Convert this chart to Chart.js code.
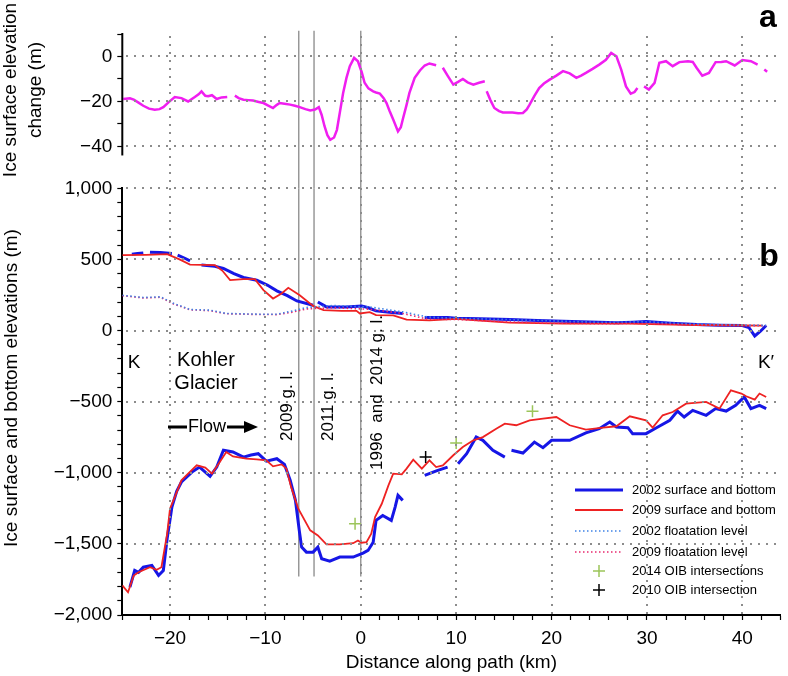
<!DOCTYPE html>
<html>
<head>
<meta charset="utf-8">
<script src="https://cdn.jsdelivr.net/npm/chart.js@4.4.1/dist/chart.umd.min.js"></script>
<style>
html, body { margin: 0; padding: 0; background: #fff; }
</style>
</head>
<body>
<canvas id="glacierChart" width="788" height="676" style="width:788px;height:676px;display:block"></canvas>
<script>
var FONT = "'Liberation Sans', Arial, Helvetica, sans-serif";

// tick labels
var xTicks = [-20, -10, 0, 10, 20, 30, 40];
var yTicksA = [0, -20, -40];
var yTicksB = [1000, 500, 0, -500, -1000, -1500, -2000];

// panel a : ice surface elevation change (m), null = gap in the data
var dhX = [-24.9, -24.2, -23.8, -23.3, -22.8, -22.2, -21.6, -21.1, -20.7, -20.1, -19.5, -18.8, -18.1, -17.4, -17.0, -16.7, -16.3, -16.0, -15.6, -15.1, -14.6, -14.0, -13.6,
  -13.2, -12.8, -12.3, -11.8, -11.3, -10.7, -10.2, -9.7, -9.2, -8.8, -8.5, -8.0, -7.4, -6.9, -6.4, -5.8, -5.3, -4.8, -4.4, -4.1, -3.8, -3.5, -3.2, -2.8, -2.5, -2.2, -1.85, -1.5, -1.15, -0.7, -0.3, 0.1, 0.4, 0.8, 1.3, 1.6, 2.0, 2.4, 2.7, 3.0, 3.4, 3.9, 4.2, 4.4, 4.8, 5.1, 5.65, 6.2, 6.7, 7.2, 7.9, 8.2,
  8.6, 9.1, 9.7, 10.2, 10.7, 11.2, 11.8, 12.4, 13.0, 13.1,
  13.2, 13.6, 14.0, 14.5, 14.9, 15.4, 15.9, 16.5, 17.0, 17.4, 17.7, 18.2, 18.7, 19.2, 19.8, 20.5, 21.2, 21.9, 22.6, 23.1, 23.6, 24.3, 25.0, 25.7, 26.25, 26.8, 27.3, 27.8, 28.3, 28.7, 29.0, 29.3,
  29.7, 30.2, 30.8, 31.3, 32.0, 32.7, 33.4, 34.3, 34.8, 35.2, 35.8, 36.5, 37.2, 37.8, 38.3, 39.2, 40.0, 40.9, 41.6, 42.0,
  42.3, 42.6];
var dhVal = [-18.9, -18.6, -19.2, -20.5, -21.9, -23.2, -23.7, -23.4, -22.5, -20.2, -18, -18.5, -20, -18, -16.8, -15.5, -17.5, -17.7, -17.2, -18.9, -18.2, -18, null,
  -17.4, -18.5, -19.2, -19.4, -19.6, -20.2, -20.7, -21.8, -22.9, -21.5, -20.7, -21, -21.4, -21.9, -22.5, -23.4, -24, -23.6, -22.5, -26, -31, -35, -37, -36, -32.6, -25, -16.2, -9.5, -4.3, -0.6, -2.1, -7, -11.7, -14.2, -15.5, -16, -16.5, -18.5, -20.7, -24, -28, -33.3, -31.5, -28, -21.5, -16.2, -9.5, -6.2, -4, -3.1, -3.9, null,
  -5, -8.5, -12.5, -11.3, -10, -11.5, -12.5, -11.7, -11, null,
  -15.5, -19.5, -22.9, -24.3, -24.9, -24.9, -24.9, -25.2, -25.1, -23.5, -21.4, -17.5, -14, -12, -10.3, -8.5, -6.5, -7.5, -9.5, -8.5, -7.3, -5.5, -3.6, -1.5, 1.6, 0.1, -5.8, -13.3, -16.5, -15.8, -14, null,
  -13.3, -14.7, -11.7, -2.8, -2.1, -4.3, -2.5, -2.1, -2.4, -5, -8.5, -7.3, -2.5, -2.4, -2.1, -4, -1.6, -2.1, -3.6, null,
  -5.8, -6.8];

// panel b : 2002 surface and bottom (m)
var srf02X = [-24.0, -23.4, -22.8, -22.6, -22.1, -21.0, -19.8, -19.5, -19.2, -18.5, -17.9, -17.3,
  -16.7, -15.3, -14.4, -13.3, -12.3, -10.9, -9.8, -8.8, -7.7, -6.7, -5.0, -4.8,
  -4.5, -3.6, -2.5, -1.5, 0.1, 0.8, 1.6, 3.0, 4.4, 5.5,
  6.7, 9.1, 10.0, 12.5, 15.6, 18.5, 21.2, 24.0, 26.8, 28.5, 29.9, 32.5, 35.2, 37.5, 40.0, 40.7, 41.3, 41.9, 42.5];
var srf02 = [537, 542, 546, null, 551, 548, 542, null, 530, 510, 490, null,
  460, 452, 436, 400, 373, 354, 320, 279, 245, 208, 178, null,
  201, 166, 166, 166, 173, 160, 138, 128, 120, null,
  91, 91, 87, 82, 77, 71, 65, 60, 54, 58, 63, 52, 42, 38, 35, 20, -38, -5, 35];
var bed02X = [-24.2, -23.7, -23.3, -22.8, -21.9, -21.2, -20.7, -20.3, -19.8, -19.3, -18.8, -17.7, -16.9, -15.8, -15.1, -14.4, -13.4, -12.3, -11.5, -10.75, -9.9, -8.8, -8.0, -7.4, -6.85, -6.45, -6.2, -5.7, -5.0, -4.5, -4.1, -3.25, -2.2, -0.8, 0.24, 0.76, 1.3, 1.6, 2.3, 3.2, 3.6, 3.9, 4.4, 5.5,
  6.7, 8.0, 9.1, 9.6,
  10.2, 11.1, 12.1, 12.8, 13.85, 15.1, 15.4,
  15.8, 17.0, 18.2, 19.1, 20.0, 21.9, 23.6, 25.0, 26.1, 26.8, 28.0, 28.5, 29.9, 31.0, 32.4, 33.2, 33.9, 34.8, 36.2, 37.2, 38.3, 39.3, 40.2, 40.9, 41.8, 42.5];
var bed02 = [-1804, -1687, -1700, -1664, -1652, -1722, -1687, -1464, -1241, -1130, -1065, -995, -960, -1025, -960, -842, -854, -890, -875, -866, -918, -901, -941, -1053, -1194, -1405, -1523, -1558, -1558, -1523, -1605, -1621, -1593, -1593, -1565, -1546, -1488, -1335, -1300, -1335, -1241, -1159, -1194, null,
  -1018, -985, -960, null,
  -936, -866, -749, -772, -842, -890, null,
  -842, -861, -784, -824, -772, -772, -720, -690, -643, -678, -683, -725, -725, -683, -631, -566, -608, -561, -596, -549, -566, -526, -467, -549, -526, -549];

// panel b : 2009 surface and bottom (m)
var srf09X = [-25.0, -22.5, -20.3, -19.0, -17.9, -15.3, -14.5, -13.7, -12.3, -11.1, -10.2, -9.2, -8.3, -7.6, -6.4, -5.0, -3.9, -2.0, -0.45, -0.1, 0.94, 1.6, 3.4, 4.8, 7.2, 10.0, 12.5, 15.6, 18.5, 21.2, 24.5, 28.2, 31.5, 35.2, 38.5, 42.1];
var srf09 = [530, 532, 537, 500, 464, 460, 420, 354, 361, 361, 284, 225, 260, 300, 248, 173, 143, 138, 138, 120, 129, 108, 106, 77, 72, 82, 70, 56, 52, 49, 48, 49, 44, 39, 37, 35];
var bed09X = [-25.0, -24.4, -23.8, -23.3, -22.1, -21.4, -20.9, -20.3, -20.0, -19.5, -18.8, -18.1, -17.2, -16.3, -15.6, -14.9, -14.1, -13.4, -12.0, -10.9, -9.9, -9.2, -8.3, -7.8, -7.3, -6.55, -5.3, -4.5, -3.6, -2.2, -0.8, -0.3, 0.07, 0.6, 1.1, 1.5, 2.2, 2.9, 3.4, 4.3, 4.8, 5.5, 6.4, 7.2, 7.9, 8.6, 9.7, 10.7, 11.8, 12.8, 14.2, 15.1, 16.3, 17.7, 19.1, 20.5, 21.9, 23.6, 25.4, 26.8, 28.2, 29.9, 30.6, 31.65, 32.7, 34.1, 36.2, 37.6, 38.8, 39.9, 40.4, 41.3, 41.8, 42.5];
var bed09 = [-1792, -1840, -1722, -1699, -1664, -1682, -1664, -1429, -1253, -1171, -1053, -1006, -948, -964, -1006, -936, -854, -885, -901, -906, -913, -955, -941, -971, -1101, -1253, -1405, -1441, -1504, -1504, -1495, -1476, -1492, -1488, -1429, -1312, -1218, -1089, -1006, -1011, -971, -908, -971, -913, -960, -948, -877, -819, -772, -749, -690, -655, -666, -631, -619, -608, -666, -697, -683, -673, -603, -631, -683, -596, -573, -514, -502, -549, -420, -443, -462, -486, -443, -467];

// panel b : floatation levels (m)
var flt02X = [-25.0, -22.8, -21.0, -19.6, -17.9, -15.8, -14.1, -10.9, -8.8, -7.1, -5.7, -2.9, 0.9, 4.4, 7.0, 10.0, 15.0, 20.0, 25.0, 30.0, 35.0, 40.0, 42.5];
var flt02 = [248, 232, 237, 190, 148, 143, 120, 115, 115, 138, 162, 176, 166, 131, 95, 86, 78, 68, 58, 62, 45, 38, 36];
var flt09X = [-25.0, -22.8, -21.0, -19.6, -17.9, -15.8, -14.1, -10.9, -8.8, -7.1, -5.7, -2.9, 0.9, 4.4, 7.0, 10.0, 15.0, 20.0, 25.0, 30.0, 35.0, 40.0, 42.5];
var flt09 = [245, 229, 234, 186, 146, 140, 118, 113, 112, 130, 152, 160, 150, 120, 80, 78, 62, 52, 48, 50, 40, 35, 34];

// OIB intersections
var oib14X = [-0.6, 10.0, 18.0];
var oib14Y = [-1358, -791, -568];
var oib10X = [6.8];
var oib10Y = [-890];

// grounding lines (2009, 2011, 1996 and 2014) and their vertical extent in each panel
var glX = [-6.5, -4.9, 0];
var glSpanA = [11.5, -58.6];
var glSpanB = [1000, -1730];

var BLUE = '#1616e6', RED = '#ee2222', MAGENTA = '#f01ef0';
var GRID = '#8c8c8c';

function pts(xs, ys) {
  return xs.map(function (x, i) { return { x: x, y: ys[i] }; });
}
function fmt(v) {
  return (v < 0 ? '\u2212' : '') + Math.abs(v).toLocaleString('en-US');
}
function text(ctx, s, x, y, font, rot, align) {
  ctx.save();
  ctx.translate(x, y);
  if (rot) ctx.rotate(rot);
  ctx.font = font;
  ctx.fillStyle = '#000';
  ctx.textAlign = align || 'center';
  ctx.textBaseline = 'middle';
  ctx.fillText(s, 0, 0);
  ctx.restore();
}
function glSets(span, axis) {
  return glX.map(function (g) {
    return { data: pts([g, g], span), yAxisID: axis, borderColor: '#8a8a8a', borderWidth: 1.3, pointRadius: 0, clip: false, order: 5 };
  });
}
function tickFont() { return { family: FONT, size: 19 }; }

// dotted grid lines at the labelled ticks, placed with the chart's scales
var dottedGrid = {
  id: 'dottedGrid',
  afterDatasetsDraw: function (chart) {
    var ctx = chart.ctx, a = chart.chartArea, sx = chart.scales.x;
    var gap = 8, s = 2;
    function vline(px) {
      var x = Math.round(px) - 1;
      for (var y = a.top + 2; y < a.bottom - 2; y += gap) ctx.fillRect(x, Math.round(y), s, s);
    }
    function hline(py) {
      var y = Math.round(py) - 1;
      for (var x = a.left + 4; x < a.right; x += gap) ctx.fillRect(Math.round(x), y, s, s);
    }
    ctx.save();
    ctx.fillStyle = GRID;
    xTicks.forEach(function (v) { vline(sx.getPixelForValue(v)); });
    yTicksA.forEach(function (v) { hline(chart.scales.yA.getPixelForValue(v)); });
    yTicksB.forEach(function (v) { if (v !== -2000) hline(chart.scales.yB.getPixelForValue(v)); });
    ctx.restore();
  }
};

var notes = {
  id: 'notes',
  afterDraw: function (chart) {
    var ctx = chart.ctx, sx = chart.scales.x, sa = chart.scales.yA;
    var f17 = '17px ' + FONT, f19 = '19px ' + FONT;
    // left axis of panel a
    ctx.save();
    ctx.strokeStyle = '#000';
    ctx.lineWidth = 2;
    ctx.beginPath();
    ctx.moveTo(sx.left, sa.getPixelForValue(10) - 1);
    ctx.lineTo(sx.left, sa.getPixelForValue(-44));
    ctx.stroke();
    ctx.restore();
    text(ctx, 'Ice surface elevation', 11, 90, f19, -Math.PI / 2);
    text(ctx, 'change (m)', 36, 90, f19, -Math.PI / 2);
    text(ctx, 'a', 768, 18, 'bold 32px ' + FONT);
    text(ctx, 'Ice surface and bottom elevations (m)', 12, 388, f19, -Math.PI / 2);
    text(ctx, 'K', 134, 363, f19);
    text(ctx, 'K\u2032', 766, 363, f19);
    text(ctx, 'Kohler', 206, 360, '20px ' + FONT);
    text(ctx, 'Glacier', 206, 383, '20px ' + FONT);
    text(ctx, 'b', 769, 257, 'bold 32px ' + FONT);
    text(ctx, '2009 g. l.', 287, 441, f17, -Math.PI / 2, 'left');
    text(ctx, '2011 g. l.', 328, 441, f17, -Math.PI / 2, 'left');
    text(ctx, '1996  and  2014 g. l.', 377, 470, f17, -Math.PI / 2, 'left');
    // flow arrow
    ctx.save();
    ctx.strokeStyle = '#000';
    ctx.fillStyle = '#000';
    ctx.lineWidth = 3;
    ctx.beginPath();
    ctx.moveTo(168, 427); ctx.lineTo(187, 427);
    ctx.moveTo(227, 427); ctx.lineTo(246, 427);
    ctx.stroke();
    ctx.beginPath();
    ctx.moveTo(244, 421); ctx.lineTo(258, 427); ctx.lineTo(244, 433); ctx.closePath();
    ctx.fill();
    ctx.restore();
    text(ctx, 'Flow', 207, 427, '18px ' + FONT);
    // legend
    var items = chart.data.datasets.filter(function (d) { return d.label; });
    var rows = [490, 510, 531, 552, 571, 590];
    items.forEach(function (d, i) {
      var y = rows[i];
      ctx.save();
      ctx.strokeStyle = d.borderColor;
      if (d.showLine === false) {
        ctx.lineWidth = 1.5;
        ctx.beginPath();
        ctx.moveTo(593, y); ctx.lineTo(605, y);
        ctx.moveTo(599, y - 6); ctx.lineTo(599, y + 6);
        ctx.stroke();
      } else {
        ctx.lineWidth = d.borderWidth;
        ctx.setLineDash(d.borderDash || []);
        ctx.beginPath();
        ctx.moveTo(575, y); ctx.lineTo(623, y);
        ctx.stroke();
      }
      ctx.restore();
      text(ctx, d.label, 632, y, '13px ' + FONT, 0, 'left');
    });
  }
};

new Chart('glacierChart', {
  type: 'line',
  data: {
    datasets: [
      { label: '2002 surface and bottom', data: pts(srf02X, srf02), yAxisID: 'yB', borderColor: BLUE, borderWidth: 3, pointRadius: 0, order: 3 },
      { label: '2009 surface and bottom', data: pts(srf09X, srf09), yAxisID: 'yB', borderColor: RED, borderWidth: 1.8, pointRadius: 0, order: 2 },
      { label: '2002 floatation level', data: pts(flt02X, flt02), yAxisID: 'yB', borderColor: '#3f82e6', borderWidth: 1.6, borderDash: [1.5, 2.5], pointRadius: 0, order: 1 },
      { label: '2009 floatation level', data: pts(flt09X, flt09), yAxisID: 'yB', borderColor: '#e8286e', borderWidth: 1.6, borderDash: [1.5, 2.5], pointRadius: 0, order: 1 },
      { label: '2014 OIB intersections', data: pts(oib14X, oib14Y), yAxisID: 'yB', showLine: false, pointStyle: 'cross', pointRadius: 6, borderColor: '#9cc55a', borderWidth: 1.5, order: 0 },
      { label: '2010 OIB intersection', data: pts(oib10X, oib10Y), yAxisID: 'yB', showLine: false, pointStyle: 'cross', pointRadius: 6, borderColor: '#000', borderWidth: 1.5, order: 0 },
      { data: pts(bed02X, bed02), yAxisID: 'yB', borderColor: BLUE, borderWidth: 3, pointRadius: 0, order: 3 },
      { data: pts(bed09X, bed09), yAxisID: 'yB', borderColor: RED, borderWidth: 1.8, pointRadius: 0, order: 2 },
      { data: pts(dhX, dhVal), yAxisID: 'yA', borderColor: MAGENTA, borderWidth: 2.5, pointRadius: 0, spanGaps: false, order: 1 }
    ].concat(glSets(glSpanA, 'yA'), glSets(glSpanB, 'yB'))
  },
  options: {
    responsive: false,
    animation: false,
    layout: { padding: { left: 12.3, right: 6.3, top: 34, bottom: 0 } },
    plugins: { legend: { display: false }, tooltip: { enabled: false } },
    scales: {
      x: {
        type: 'linear', min: -25, max: 44,
        ticks: {
          stepSize: 2, autoSkip: false, maxRotation: 0, padding: 7, color: '#000', font: tickFont(),
          callback: function (v) { return xTicks.indexOf(v) >= 0 ? fmt(v) : ''; }
        },
        grid: { drawOnChartArea: false, tickColor: '#000', tickLength: 5, tickWidth: 1.2 },
        border: { display: true, color: '#000', width: 2 },
        title: { display: true, text: 'Distance along path (km)', color: '#000', font: { family: FONT, size: 19 }, padding: { top: 0, bottom: 2 } },
        afterFit: function (s) { s.height = 61; }
      },
      yB: {
        type: 'linear', position: 'left', stack: 'panels', stackWeight: 426.7, weight: 0,
        min: -2000, max: 1000,
        ticks: {
          stepSize: 100, autoSkip: false, padding: 5, color: '#000', font: tickFont(),
          callback: function (v) { return yTicksB.indexOf(v) >= 0 ? fmt(v) : ''; }
        },
        grid: { drawOnChartArea: false, tickColor: '#000', tickLength: 5, tickWidth: 1.2 },
        border: { display: true, color: '#000', width: 2 },
        afterFit: function (s) { s.width = 110; }
      },
      yA: {
        type: 'linear', position: 'left', stack: 'panels', stackWeight: 154.3, weight: 1,
        min: -58.6, max: 10,
        afterBuildTicks: function (s) {
          s.ticks = s.ticks.filter(function (t) { return t.value >= -40 && t.value <= 10; });
        },
        ticks: {
          stepSize: 10, autoSkip: false, padding: 5, color: '#000', font: tickFont(),
          callback: function (v) { return yTicksA.indexOf(v) >= 0 ? fmt(v) : ''; }
        },
        grid: { drawOnChartArea: false, tickColor: '#000', tickLength: 5, tickWidth: 1.2 },
        border: { display: false },
        afterFit: function (s) { s.width = 110; }
      }
    }
  },
  plugins: [dottedGrid, notes]
});
</script>
</body>
</html>
